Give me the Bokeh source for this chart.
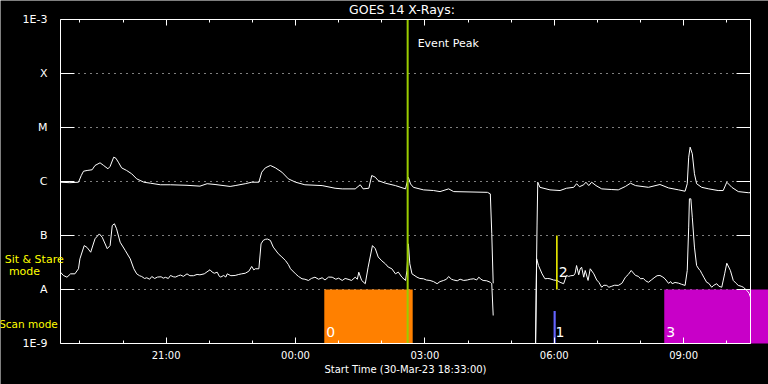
from bokeh.plotting import figure
from bokeh.models import Range1d, FixedTicker, LinearAxis, LogAxis, Label
from bokeh.core.properties import value
from bokeh.embed import file_html
from bokeh.resources import INLINE

NAN = float("nan")
START_HOUR = 18.55          # 30-Mar-23 18:33:00
SPAN_HOURS = 16.0
END_HOUR = START_HOUR + SPAN_HOURS

# GOES 14 long channel (1-8 A): minutes after start, flux (W/m^2)
long_t = [0, 13, 25, 29, 32, 37, 44, 48, 55, 60, 66, 69, 74, 77, 81, 85, 92, 99, 106, 116,
          125, 139, 153, 176, 194, 204, 215, 236, 243, 257, 266, 276, 280, 285, 292, 299, 308,
          317, 327, 340, 364, 382, 392, 410, 417, 421, 429, 433, 438, 442, 452, 466, 480, 484,
          487, 491, 505, 519, 528, 540, 547, 594, 598, 600, 602, 630,
          661, 662, 663, 664, 667, 681, 695, 704, 714, 718, 722, 728, 731, 735, 739, 745, 753,
          767, 776, 786, 793, 800, 818, 834, 846, 860, 869, 872, 874, 876, 879, 882, 885, 892,
          902, 915, 922, 927, 934, 943, 957, 960]
long_f = [0.97e-6, 0.95e-6, 0.97e-6, 1.3e-6, 1.55e-6, 1.60e-6, 1.65e-6, 1.98e-6, 2.22e-6,
          1.98e-6, 1.72e-6, 1.90e-6, 2.82e-6, 2.7e-6, 2.22e-6, 1.79e-6, 1.60e-6, 1.39e-6,
          1.12e-6, 0.97e-6, 0.93e-6, 0.87e-6, 0.87e-6, 0.85e-6, 0.82e-6, 0.91e-6, 0.88e-6,
          0.81e-6, 0.84e-6, 0.91e-6, 0.97e-6, 0.97e-6, 1.49e-6, 1.79e-6, 1.98e-6, 1.79e-6,
          1.49e-6, 1.12e-6, 0.97e-6, 0.87e-6, 0.84e-6, 0.75e-6, 0.73e-6, 0.73e-6, 0.87e-6,
          0.73e-6, 0.75e-6, 1.29e-6, 1.2e-6, 1.04e-6, 0.93e-6, 0.84e-6, 0.73e-6, 1.2e-6,
          0.9e-6, 0.78e-6, 0.70e-6, 0.68e-6, 0.65e-6, 0.73e-6, 0.65e-6, 0.63e-6, 0.59e-6,
          1.1e-7, 1.3e-8, NAN,
          1e-9, 1.5e-8, 1.5e-7, 0.97e-6, 0.78e-6, 0.70e-6, 0.68e-6, 0.75e-6, 0.78e-6,
          0.91e-6, 0.80e-6, 0.87e-6, 0.97e-6, 0.84e-6, 0.97e-6, 0.84e-6, 0.73e-6, 0.71e-6,
          0.70e-6, 0.81e-6, 0.93e-6, 0.84e-6, 0.78e-6, 0.88e-6, 0.76e-6, 0.70e-6, 0.66e-6,
          0.91e-6, 2.82e-6, 4.32e-6, 3.26e-6, 1.39e-6, 0.91e-6, 0.78e-6, 0.73e-6, 0.68e-6,
          0.68e-6, 0.97e-6, 0.78e-6, 0.65e-6, 0.62e-6, 0.62e-6]

# GOES 14 short channel (0.5-4 A)
short_t = [0, 4, 9, 14, 20, 25, 27, 33, 37, 42, 48, 54, 58, 65, 69, 72, 75, 78, 83, 90, 97,
           102, 106, 110, 113, 117, 120, 124, 127, 131, 135, 140, 143, 146, 150, 153, 157,
           160, 164, 167, 171, 176, 180, 185, 190, 194, 200, 208, 211, 214, 218, 221, 223,
           227, 230, 232, 237, 243, 248, 252, 257, 262, 266, 269, 271, 276, 279, 282, 285,
           288, 292, 296, 303, 308, 313, 317, 320, 327, 331, 336, 340, 345, 349, 354, 359,
           364, 368, 373, 378, 383, 387, 392, 396, 400, 405, 410, 413, 415, 419, 424, 428,
           434, 438, 442, 447, 452, 456, 461, 466, 470, 475, 480, 482, 484, 486, 489, 496,
           500, 505, 509, 514, 519, 524, 528, 533, 537, 540, 544, 547, 552, 556, 561, 566,
           570, 575, 579, 582, 585, 588, 593, 598, 600, 602, 630,
           661, 662.5, 665, 670, 674, 678, 681, 686, 691, 695, 700, 704, 707, 710, 714, 716,
           718, 721, 723, 725, 728, 730, 734, 737, 742, 746, 749, 753, 756, 760, 763, 767,
           771, 776, 781, 786, 790, 794, 800, 804, 807, 811, 814, 818, 822, 827, 830, 834,
           838, 841, 846, 849, 851, 855, 860, 864, 869, 872, 874, 875, 877, 879, 882, 885,
           888, 890, 892, 895, 899, 902, 906, 909, 913, 916, 920, 924, 927, 932, 936, 940,
           943, 947, 950, 955, 958, 960]
short_f = [2.09e-8, 1.82e-8, 1.69e-8, 1.95e-8, 1.95e-8, 2.42e-8, 3.7e-8, 6.5e-8, 6.0e-8,
           4.9e-8, 8.7e-8, 1.07e-7, 9.3e-8, 5.7e-8, 6.5e-8, 1.53e-7, 1.65e-7, 1.33e-7, 7.5e-8,
           5.3e-8, 3.7e-8, 2.42e-8, 1.95e-8, 1.8e-8, 1.74e-8, 1.6e-8, 1.65e-8, 1.55e-8,
           1.74e-8, 1.6e-8, 1.7e-8, 1.72e-8, 1.62e-8, 1.68e-8, 1.6e-8, 1.82e-8, 1.72e-8,
           1.7e-8, 1.8e-8, 1.85e-8, 1.75e-8, 1.95e-8, 1.8e-8, 1.8e-8, 1.9e-8, 1.87e-8,
           1.95e-8, 2.32e-8, 2.1e-8, 2.0e-8, 2.09e-8, 1.75e-8, 1.7e-8, 1.82e-8, 1.7e-8,
           1.95e-8, 1.8e-8, 1.82e-8, 1.9e-8, 1.95e-8, 2.0e-8, 2.18e-8, 2.67e-8, 2.3e-8,
           2.42e-8, 2.42e-8, 7.0e-8, 8.1e-8, 8.5e-8, 8.6e-8, 8.1e-8, 6.1e-8, 4.6e-8, 4.0e-8,
           3.44e-8, 2.9e-8, 2.42e-8, 1.95e-8, 1.75e-8, 1.58e-8, 1.55e-8, 1.47e-8, 1.6e-8,
           1.69e-8, 1.55e-8, 1.65e-8, 1.5e-8, 1.7e-8, 1.69e-8, 1.55e-8, 1.62e-8, 1.47e-8,
           1.6e-8, 1.55e-8, 1.47e-8, 1.69e-8, 1.55e-8, 2.09e-8, 1.47e-8, 1.28e-8, 2.59e-8,
           6.5e-8, 5.7e-8, 4.0e-8, 3.4e-8, 2.99e-8, 2.6e-8, 2.42e-8, 1.95e-8, 2.1e-8,
           1.69e-8, 1.47e-8, 2.25e-8, 7.0e-8, 2.99e-8, 1.95e-8, 1.69e-8, 1.6e-8, 1.58e-8,
           1.5e-8, 1.47e-8, 1.4e-8, 1.28e-8, 1.4e-8, 1.47e-8, 1.55e-8, 1.74e-8, 1.55e-8,
           1.5e-8, 1.45e-8, 1.55e-8, 1.47e-8, 1.5e-8, 1.55e-8, 1.58e-8, 1.5e-8, 1.69e-8,
           1.55e-8, 1.47e-8, 1.45e-8, 1.36e-8, 1.28e-8, 3.3e-9, NAN,
           1e-9, 3.7e-8, 2.78e-8, 1.95e-8, 1.58e-8, 1.6e-8, 1.58e-8, 1.5e-8, 1.47e-8,
           1.36e-8, 1.28e-8, 1.82e-8, 1.75e-8, 1.8e-8, 1.82e-8, 2.0e-8, 2.78e-8, 1.87e-8,
           2.4e-8, 2.59e-8, 1.69e-8, 2.25e-8, 1.47e-8, 2.42e-8, 1.95e-8, 1.5e-8, 1.36e-8,
           1.10e-8, 1.2e-8, 1.19e-8, 1.1e-8, 1.15e-8, 1.2e-8, 1.19e-8, 1.3e-8, 1.69e-8,
           1.9e-8, 2.25e-8, 1.82e-8, 1.75e-8, 1.58e-8, 1.6e-8, 1.45e-8, 1.36e-8, 1.5e-8,
           1.69e-8, 1.8e-8, 1.82e-8, 1.7e-8, 1.58e-8, 1.3e-8, 1.4e-8, 1.28e-8, 1.35e-8,
           1.31e-8, 1.25e-8, 1.19e-8, 2.25e-8, 1.43e-7, 4.78e-7, 4.78e-7, 2.18e-7, 6.1e-8,
           2.78e-8, 2.4e-8, 2.25e-8, 2.0e-8, 1.69e-8, 1.36e-8, 1.3e-8, 1.10e-8, 1.2e-8,
           1.28e-8, 1.15e-8, 1.10e-8, 1.95e-8, 3.07e-8, 2.25e-8, 1.47e-8, 1.3e-8, 1.19e-8,
           1.15e-8, 1.10e-8, 9.6e-9, 8.5e-9, 7.2e-9]

levels = [1e-9, 1e-8, 1e-7, 1e-6, 1e-5, 1e-4, 1e-3]
level_labels = ["1E-9", "A", "B", "C", "M", "X", "1E-3"]
hour_ticks = [21, 24, 27, 30, 33]
hour_labels = ["21:00", "00:00", "03:00", "06:00", "09:00"]
hour_minor = list(range(19, 35))

event_peak_t = 483
mode_start = [367, 686, 840]
mode_end = [490, 689, 1000]
mode_top = [1e-8, 4e-9, 1e-8]
mode_color = ["#FF8000", "#6464FF", "#C800C8"]
mode_label = ["0", "1", "3"]
stare_t = [690.6]
stare_label = ["2"]


def to_hour(ts):
    return [START_HOUR + t / 60.0 for t in ts]


PX_PER_HOUR = 43.125          # 16 h over a 690 px wide plot box
PX_PER_DECADE = 54.0
W, H = 768, 384
BOX_LEFT, BOX_TOP, BOX_BOTTOM = 60, 19, 343
X0 = START_HOUR - BOX_LEFT / PX_PER_HOUR
X1 = START_HOUR + (W - BOX_LEFT) / PX_PER_HOUR
Y0 = 10 ** (-9 - (H - BOX_BOTTOM) / PX_PER_DECADE)
Y1 = 10 ** (-3 + BOX_TOP / PX_PER_DECADE)
FONT = "DejaVu Sans"

p = figure(width=W, height=H, output_backend="svg", toolbar_location=None,
           x_range=Range1d(X0, X1), y_range=Range1d(Y0, Y1), y_axis_type="log",
           x_axis_location=None, y_axis_location=None,
           min_border=0, min_border_left=0, min_border_right=0, min_border_top=0,
           min_border_bottom=0,
           background_fill_color="black", border_fill_color="black",
           outline_line_color=None)
p.grid.visible = False


def style_axis(ax, tick_in, minor_in=0):
    ax.axis_line_color = "white"
    ax.major_tick_line_color = "white"
    ax.minor_tick_line_color = "white" if minor_in else None
    ax.major_tick_in = tick_in
    ax.major_tick_out = 0
    ax.minor_tick_in = minor_in
    ax.minor_tick_out = 0
    ax.major_label_text_color = "white"
    ax.major_label_text_font = FONT


left = LogAxis(ticker=FixedTicker(ticks=levels, minor_ticks=[]),
               major_label_overrides=dict(zip(levels, level_labels)),
               fixed_location=START_HOUR, bounds=(1e-9, 1e-3))
style_axis(left, 14)
left.major_label_text_font_size = "11px"
left.major_label_standoff = 13
left.major_label_text_align = "center"
p.add_layout(left, "left")

right = LogAxis(ticker=FixedTicker(ticks=levels, minor_ticks=[]),
                fixed_location=END_HOUR, bounds=(1e-9, 1e-3))
style_axis(right, 14)
right.major_label_text_color = None
right.major_label_text_font_size = "0px"
p.add_layout(right, "right")

bottom = LinearAxis(ticker=FixedTicker(ticks=hour_ticks, minor_ticks=hour_minor),
                    major_label_overrides=dict(zip(hour_ticks, hour_labels)),
                    fixed_location=1e-9, bounds=(START_HOUR, END_HOUR))
style_axis(bottom, 6, 3)
bottom.major_label_text_font_size = "10px"
bottom.major_label_standoff = 6
p.add_layout(bottom, "below")

top = LinearAxis(ticker=FixedTicker(ticks=hour_ticks, minor_ticks=hour_minor),
                 fixed_location=1e-3, bounds=(START_HOUR, END_HOUR))
style_axis(top, 6, 3)
top.major_label_text_color = None
top.major_label_text_font_size = "0px"
p.add_layout(top, "above")

# dotted level lines
inner = levels[1:-1]
p.segment(x0=[START_HOUR] * len(inner), x1=[END_HOUR] * len(inner), y0=inner, y1=inner,
          line_color="white", line_width=1, line_dash="1 5")

# mode blocks
p.quad(left=to_hour(mode_start), right=to_hour(mode_end), bottom=[1e-9] * 3, top=mode_top,
       fill_color=mode_color, line_color=None)

# curves
p.line(to_hour(long_t), long_f, line_color="white", line_width=1)
p.line(to_hour(short_t), short_f, line_color="white", line_width=1)

# event peak
ev_x = to_hour([event_peak_t])[0]
p.segment(x0=[ev_x], x1=[ev_x], y0=[1e-9], y1=[1e-3], line_color="#9BCD00", line_width=2)
p.add_layout(Label(x=ev_x, y=3.6e-4, x_offset=10, text="Event Peak", text_color="white",
                   text_font=FONT, text_font_size="11px", text_baseline="middle"))

# sit & stare marker and mode labels
p.segment(x0=to_hour(stare_t), x1=to_hour(stare_t), y0=[1e-8], y1=[1e-7],
          line_color="#FFFF00", line_width=1.5)
p.text(x=to_hour(stare_t), y=[2.07e-8], text=stare_label, x_offset=2,
       text_color="white", text_font=value(FONT), text_font_size="14px",
       text_baseline="middle")
p.text(x=to_hour(mode_start), y=[1.6e-9] * 3, text=mode_label, x_offset=2,
       text_color="white", text_font=value(FONT), text_font_size="14px",
       text_baseline="middle")

# titles and side texts
p.add_layout(Label(x=26.47, y=1.5e-3, text="GOES 14 X-Rays:",
                   text_color="white", text_font=FONT, text_font_size="12.5px",
                   text_align="center", text_baseline="middle"))
p.add_layout(Label(x=START_HOUR + SPAN_HOURS / 2, y=3.3e-10,
                   text="Start Time (30-Mar-23 18:33:00)", text_color="white",
                   text_font=FONT, text_font_size="10px", text_align="center",
                   text_baseline="middle"))
p.add_layout(Label(x=17.94, y=3.59e-8, text="Sit & Stare",
                   text_color="#FFFF00", text_font=FONT, text_font_size="11px",
                   text_align="center", text_baseline="middle"))
p.add_layout(Label(x=17.715, y=2.15e-8, text="mode",
                   text_color="#FFFF00", text_font=FONT, text_font_size="11px",
                   text_align="center", text_baseline="middle"))
p.add_layout(Label(x=17.808, y=2.25e-9, text="Scan mode",
                   text_color="#FFFF00", text_font=FONT, text_font_size="10.5px",
                   text_align="center", text_baseline="middle"))

html = file_html(p, INLINE)
html = html.replace("<body>", '<body style="margin:0;background-color:#000000;">', 1)
open("out.html", "w").write(html)
